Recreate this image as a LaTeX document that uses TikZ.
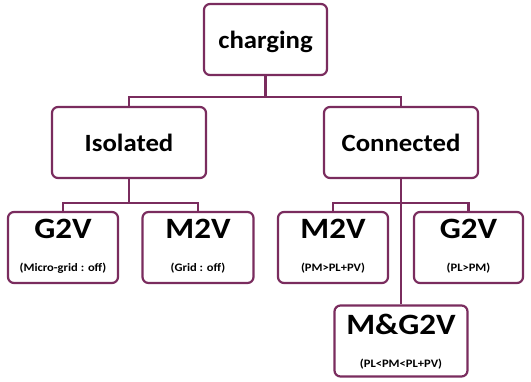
\documentclass[tikz,border=0pt]{standalone}
\usepackage{fontspec}
\setmainfont{Carlito}
\definecolor{boxline}{RGB}{122,44,94}
\newcommand{\wbig}[1]{\scalebox{1.08}[1]{#1}}
\newcommand{\wtit}[1]{\scalebox{1.12}[1]{#1}}
\newcommand{\wsm}[1]{\scalebox{1.1}[1]{#1}}
\begin{document}
\begin{tikzpicture}[x=1pt,y=-1pt,
  box/.style={draw=boxline,line width=2.2pt,rounded corners=6pt,fill=white,inner sep=0pt},
  big/.style={font=\fontsize{24.8}{26}\selectfont\bfseries,inner sep=0pt},
  title/.style={font=\fontsize{29.5}{31}\selectfont\bfseries,inner sep=0pt},
  small/.style={font=\fontsize{11.4}{13}\selectfont\bfseries,inner sep=0pt},
  link/.style={draw=boxline,line width=2.2pt}]
\useasboundingbox (0,0) rectangle (531,381);
% boxes
\node[box,minimum width=123pt,minimum height=71pt] (ch) at (265.5,39.5) {};
\node[box,minimum width=154pt,minimum height=71pt] (iso) at (129,142.5) {};
\node[box,minimum width=154pt,minimum height=71pt] (con) at (401,142.5) {};
\node[box,minimum width=110pt,minimum height=71pt] (g2vl) at (63,247.5) {};
\node[box,minimum width=111pt,minimum height=71pt] (m2vl) at (198,247.5) {};
\node[box,minimum width=110pt,minimum height=71pt] (m2vr) at (333,247.5) {};
\node[box,minimum width=109pt,minimum height=71pt] (g2vr) at (468.5,247.5) {};
\node[box,minimum width=133pt,minimum height=71pt] (mg) at (401,341) {};
% connectors
\coordinate (j1) at (265.5,97);
\coordinate (j2) at (129,203);
\coordinate (j3) at (401,203);
\draw[link] (ch.south) -- (j1);
\draw[link] (iso.north) |- (j1) -| (con.north);
\draw[link] (iso.south) -- (j2);
\draw[link] (g2vl.north) |- (j2) -| (m2vl.north);
\draw[link] (m2vr.north) |- (j3) -| (g2vr.north);
\draw[link] (con.south) -- (mg.north);
% texts
\node[big] (tch) at (265.5,42) {\wbig{charging}};
\node[big] (tiso) at (129,143) {\wbig{Isolated}};
\node[big] (tcon) at (401,143) {\wbig{Connected}};
\node[title] (t1) at (63,229) {\wtit{G2V}};
\node[small] (s1) at (63,268) {\wsm{(Micro-grid : off)}};
\node[title] (t2) at (198,229) {\wtit{M2V}};
\node[small] (s2) at (198,268) {\wsm{(Grid : off)}};
\node[title] (t3) at (333,229) {\wtit{M2V}};
\node[small] (s3) at (333,268) {\wsm{(PM>PL+PV)}};
\node[title] (t4) at (468.5,229) {\wtit{G2V}};
\node[small] (s4) at (468.5,268) {\wsm{(PL>PM)}};
\node[title] (t5) at (401,324) {\wtit{M\&G2V}};
\node[small] (s5) at (401,364) {\wsm{(PL<PM<PL+PV)}};
\end{tikzpicture}
\end{document}
